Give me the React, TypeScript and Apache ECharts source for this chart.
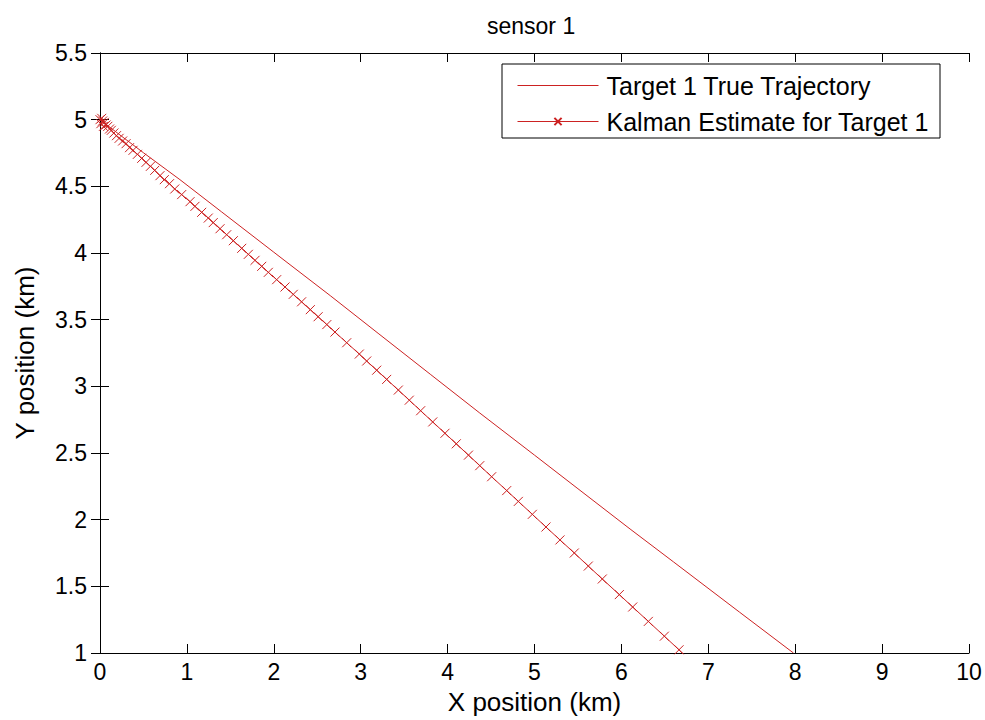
import React, { useEffect, useRef } from 'react';
import * as echarts from 'echarts';

const TITLE = 'sensor 1';
const X_NAME = 'X position (km)';
const Y_NAME = 'Y position (km)';
const SERIES_NAMES = ['Target 1 True Trajectory', 'Kalman Estimate for Target 1'];

const X_MIN = 0;
const X_MAX = 10;
const X_STEP = 1;
const Y_MIN = 1;
const Y_MAX = 5.5;
const Y_STEP = 0.5;

// Target 1 true trajectory
const trueX = [0, 0.25, 0.5, 0.92, 1.4, 2.0, 2.65, 3.2, 3.8, 4.37, 5.0, 5.5, 6.1, 6.6, 7.36, 7.98];
const trueY = [5.0, 4.875, 4.752, 4.55, 4.308, 4.006, 3.68, 3.398, 3.091, 2.8, 2.484, 2.232, 1.93, 1.683, 1.306, 1.0];

// Kalman estimate for target 1
const kalX = [
  0.0, 0.03, 0.01, 0.05, 0.02, 0.07, 0.04, 0.09, 0.11, 0.13, 0.16, 0.19, 0.22, 0.26, 0.3, 0.34,
  0.38, 0.43, 0.48, 0.53, 0.58, 0.63, 0.69, 0.74, 0.8, 0.86, 0.94, 1.036, 1.093, 1.17, 1.246,
  1.303, 1.381, 1.458, 1.534, 1.631, 1.707, 1.784, 1.861, 1.937, 2.033, 2.129, 2.224, 2.32, 2.42,
  2.51, 2.61, 2.704, 2.839, 2.984, 3.069, 3.184, 3.299, 3.433, 3.559, 3.69, 3.829, 3.97, 4.1,
  4.24, 4.37, 4.507, 4.68, 4.814, 4.975, 5.132, 5.293, 5.458, 5.619, 5.78, 5.976, 6.13, 6.31,
  6.494, 6.663, 6.83,
];
const kalY = [
  5.0, 4.99, 4.97, 4.98, 5.01, 4.96, 4.95, 4.95, 4.93, 4.92, 4.9, 4.88, 4.86, 4.84, 4.82, 4.79,
  4.77, 4.74, 4.71, 4.68, 4.65, 4.62, 4.58, 4.55, 4.52, 4.48, 4.438, 4.385, 4.35, 4.305, 4.262,
  4.228, 4.182, 4.137, 4.092, 4.035, 3.99, 3.945, 3.9, 3.855, 3.8, 3.745, 3.69, 3.634, 3.575,
  3.522, 3.463, 3.407, 3.327, 3.242, 3.19, 3.121, 3.052, 2.972, 2.896, 2.817, 2.733, 2.648, 2.569,
  2.484, 2.405, 2.322, 2.218, 2.137, 2.04, 1.945, 1.848, 1.75, 1.652, 1.555, 1.438, 1.345, 1.237,
  1.126, 1.024, 0.92,
];

const RED = '#cc2222';
const FONT = 'Liberation Sans';
const X_SYMBOL = 'path://M0,0L10,10M10,0L0,10';
const LINE_ICON = 'path://M0,0L81,0L81,1L0,1Z';

export default function App() {
  const ref = useRef<HTMLDivElement>(null);
  useEffect(() => {
    document.body.style.margin = '0';
    document.body.style.overflow = 'hidden';
    if (!ref.current) return;
    const chart = echarts.init(ref.current, null, { renderer: 'svg' });
    const truePts = trueX.map((x, i) => [x, trueY[i]]);
    const kalPts = kalX.map((x, i) => [x, kalY[i]]);
    const axisLine = { show: true, lineStyle: { color: '#000', width: 1 } };
    const tick = { show: true, inside: true, length: 9, lineStyle: { color: '#000', width: 1 } };
    const labelStyle = { fontFamily: FONT, fontSize: 23, color: '#000' };
    const nameStyle = { fontFamily: FONT, fontSize: 26, color: '#000' };
    chart.setOption({
      animation: false,
      backgroundColor: '#fff',
      title: {
        text: TITLE,
        left: 482,
        top: 9,
        textStyle: { fontFamily: FONT, fontSize: 23, fontWeight: 'normal', color: '#000' },
      },
      grid: { left: 100, right: 16, top: 53, bottom: 66 },
      xAxis: [
        {
          type: 'value', min: X_MIN, max: X_MAX, interval: X_STEP, position: 'bottom',
          name: X_NAME, nameLocation: 'middle', nameGap: 36,
          nameTextStyle: nameStyle,
          axisLine, axisTick: tick, splitLine: { show: false },
          axisLabel: { ...labelStyle, margin: 7 },
        },
        {
          type: 'value', min: X_MIN, max: X_MAX, interval: X_STEP, position: 'top',
          axisLine, axisTick: tick, splitLine: { show: false }, axisLabel: { show: false },
        },
      ],
      yAxis: [
        {
          type: 'value', min: Y_MIN, max: Y_MAX, interval: Y_STEP, position: 'left',
          name: Y_NAME, nameLocation: 'middle', nameGap: 62,
          nameTextStyle: nameStyle,
          axisLine, axisTick: tick, splitLine: { show: false },
          axisLabel: { ...labelStyle, margin: 13 },
        },
        {
          type: 'value', min: Y_MIN, max: Y_MAX, interval: Y_STEP, position: 'right',
          axisLine, axisTick: tick, splitLine: { show: false }, axisLabel: { show: false },
        },
      ],
      legend: {
        left: 517,
        top: 73,
        orient: 'vertical',
        padding: 0,
        itemWidth: 81,
        itemHeight: 9,
        itemGap: 11,
        lineStyle: { width: 1 },
        textStyle: { fontFamily: FONT, fontSize: 25, color: '#000', lineHeight: 25, padding: [0, 0, 0, 3] },
        data: [
          { name: SERIES_NAMES[0], icon: LINE_ICON, itemStyle: { color: RED } },
          { name: SERIES_NAMES[1] },
        ],
      },
      graphic: [
        {
          type: 'rect',
          z: 3,
          shape: { x: 502, y: 64, width: 438, height: 74 },
          style: { fill: '#fff', stroke: '#000', lineWidth: 1 },
        },
      ],
      series: [
        {
          name: SERIES_NAMES[0],
          type: 'line',
          data: truePts,
          symbol: 'none',
          lineStyle: { color: RED, width: 1 },
          itemStyle: { color: RED },
          clip: true,
          z: 2,
        },
        {
          name: SERIES_NAMES[1],
          type: 'line',
          data: kalPts,
          symbol: X_SYMBOL,
          symbolSize: 9,
          showAllSymbol: true,
          lineStyle: { color: RED, width: 1 },
          itemStyle: { color: 'none', borderColor: RED, borderWidth: 1 },
          clip: true,
          z: 2,
        },
      ],
    });
    return () => chart.dispose();
  }, []);
  return <div ref={ref} style={{ width: 985, height: 720 }} />;
}
